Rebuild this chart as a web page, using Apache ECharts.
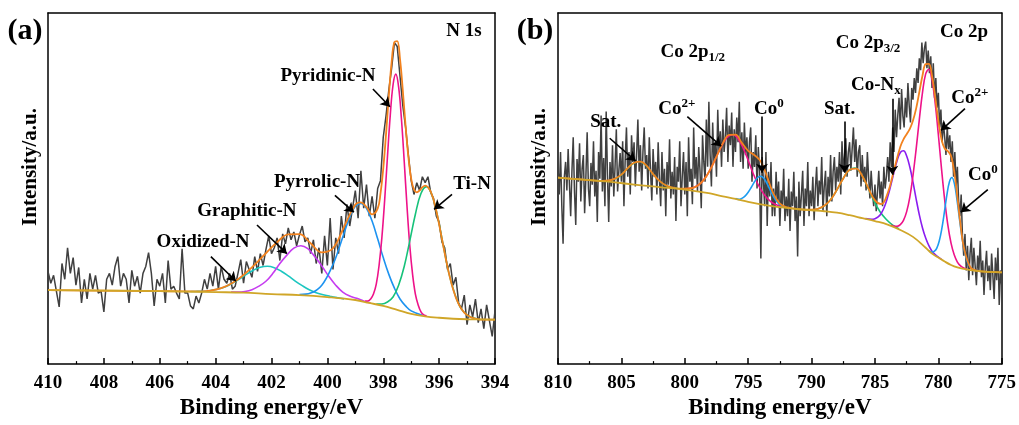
<!DOCTYPE html>
<html>
<head>
<meta charset="utf-8">
<script src="https://cdn.jsdelivr.net/npm/echarts@6/dist/echarts.min.js"></script>
<style>
  html, body { margin: 0; padding: 0; background: #fff; }
  #chart { width: 1019px; height: 425px; }
</style>
</head>
<body>
<div id="chart"></div>
<script>
// ---------- panel (a): N 1s ----------
// raw counts, 410.0 -> 394.0 eV, step 0.1
const rawA = [
  94, 82, 90, 74, 58, 102, 86, 118, 92, 108,
  80, 98, 62, 86, 66, 92, 76, 90, 72, 74,
  53, 86, 92, 80, 99, 109, 79, 92, 86, 62,
  95, 79, 89, 72, 92, 99, 113, 92, 59, 86,
  79, 92, 62, 105, 76, 79, 72, 66, 117, 72,
  72, 59, 56, 69, 62, 72, 86, 76, 92, 79,
  99, 76, 99, 86, 82, 92, 76, 79, 92, 106,
  82, 104, 96, 88, 109, 94, 112, 100, 116, 130,
  112, 118, 128, 105, 132, 122, 138, 126, 134, 120,
  131, 140, 124, 128, 112, 126, 102, 118, 92, 130,
  100, 148, 96, 128, 112, 150, 128, 162, 140, 158,
  176, 148, 196, 158, 182, 150, 170, 148, 178, 186,
  230, 252, 278, 300, 326, 322, 292, 262, 240, 212,
  186, 172, 184, 176, 190, 184, 190, 174, 168, 150,
  144, 124, 118, 96, 102, 80, 88, 62, 56, 70,
  40, 60, 48, 66, 42, 56, 36, 60, 44, 28,
  54
];
const oxidizedA = [[404.9,73.6],[404.65,73.7],[404.4,73.8],[404.15,74.8],[403.9,76.2],[403.65,78.5],[403.4,81.9],[403.15,86.2],[402.9,91],[402.65,95.2],[402.4,98.2],[402.15,99.2],[401.9,97.8],[401.65,94.2],[401.4,89.4],[401.15,84.2],[400.9,79.5],[400.65,75.4],[400.4,72.4],[400.15,70.3],[399.9,68.8],[399.65,67.4],[399.4,66.1]];
const graphiticA = [[403.45,73],[403.2,73],[402.95,73.7],[402.7,75.5],[402.45,79],[402.2,84],[401.95,92],[401.7,102],[401.45,110.5],[401.2,117.6],[400.95,120],[400.7,117],[400.45,109],[400.2,99.5],[399.95,89],[399.7,80],[399.45,73],[399.2,69],[398.95,66.7],[398.7,64],[398.45,62]];
const pyrrolicA = [[401,70.5],[400.6,72],[400.2,80],[399.8,101],[399.6,116],[399.4,133],[399.2,149],[399,160],[398.8,163],[398.6,158],[398.4,145],[398.2,127],[398,108],[397.8,91],[397.6,77],[397.4,66],[397.2,59],[397,54],[396.6,49.5]];
const pyridinicA = [[398.65,64],[398.55,64],[398.45,66],[398.35,71],[398.25,81],[398.15,100],[398.05,128],[397.95,166],[397.85,210],[397.75,252],[397.65,283],[397.55,294],[397.45,281],[397.35,249],[397.25,206],[397.15,160],[397.05,120],[396.95,91],[396.85,71],[396.75,60],[396.65,53],[396.55,50],[396.45,49]];
const tinA = [[398.25,61],[398.05,61],[397.85,63],[397.65,68],[397.45,80],[397.25,99],[397.05,125],[396.85,152],[396.65,173],[396.45,180],[396.25,171],[396.05,149],[395.85,120],[395.65,92],[395.45,72],[395.25,58],[395.05,51],[394.85,47.5],[394.65,46]];
const envelopeA = [[410,75],[406,74],[405,73.7],[404.6,73.8],[404.2,74.5],[403.8,77],[403.4,82.2],[403,90.4],[402.6,100.8],[402.2,112.4],[401.8,123.6],[401.4,131.5],[401,131.8],[400.6,122.6],[400.2,113.3],[399.8,117.5],[399.4,139.4],[399,161.7],[398.8,164],[398.6,159.2],[398.4,151.9],[398.2,157.6],[398.1,172.8],[398,198.3],[397.9,233.2],[397.8,272.1],[397.7,306.2],[397.6,326.6],[397.5,327.5],[397.4,309.2],[397.3,277.4],[397.2,241.4],[397.1,210],[397,188],[396.9,176.9],[396.8,174.2],[396.7,176],[396.6,179.3],[396.5,181],[396.3,174.8],[396.1,155.2],[395.9,127.1],[395.7,98.6],[395.5,76],[395.3,60.7],[395.1,52.1],[394.9,48],[394.7,46.1],[394.5,45.1],[394,45]];
const backgroundA = [[410,75],[406,74],[404,73],[403,72.5],[402,71],[401,70],[400,68],[399,65],[398.5,62],[398,59],[397.5,55],[397,51],[396.5,48.5],[396,47],[395.5,46],[395,45.5],[394,45]];

// ---------- panel (b): Co 2p ----------
// raw counts, 810.0 -> 775.0 eV, step 0.1
const rawB = [
  200, 172, 215, 160, 122, 190, 205, 176, 218, 183,
  150, 196, 230, 175, 141, 208, 185, 224, 165, 198,
  212, 153, 190, 235, 178, 160, 204, 182, 226, 170,
  196, 144, 215, 188, 252, 175, 209, 160, 256, 192,
  144, 205, 180, 222, 170, 200, 238, 175, 196, 214,
  185, 226, 160, 208, 240, 190, 215, 172, 232, 205,
  225, 180, 212, 248, 195, 222, 176, 215, 240, 198,
  212, 178, 230, 195, 166, 218, 190, 205, 172, 225,
  188, 160, 215, 176, 198, 150, 205, 182, 228, 168,
  195, 172, 210, 145, 200, 185, 226, 160, 190, 215,
  172, 205, 150, 230, 185, 198, 162, 240, 188, 210,
  175, 220, 196, 158, 232, 205, 185, 248, 200, 266,
  212, 180, 245, 205, 225, 190, 258, 215, 236, 200,
  248, 215, 230, 260, 205, 242, 222, 255, 200, 238,
  215, 250, 225, 266, 205, 235, 198, 245, 212, 230,
  198, 225, 240, 185, 215, 200, 232, 178, 220, 195,
  107, 210, 186, 160, 215, 140, 195, 170, 205, 150,
  178, 150, 195, 165, 185, 140, 176, 160, 198, 145,
  170, 150, 188, 135, 175, 160, 195, 145, 170, 109,
  185, 150, 172, 196, 140, 178, 160, 205, 150, 176,
  160, 190, 146, 178, 200, 160, 186, 172, 210, 155,
  180, 196, 150, 190, 170, 212, 165, 195, 210, 176,
  200, 185, 215, 172, 226, 195, 212, 229, 190, 215,
  225, 196, 218, 240, 205, 228, 190, 215, 222, 180,
  212, 185, 200, 176, 215, 190, 168, 196, 175, 160,
  182, 155, 175, 196, 168, 185, 160, 200, 178, 190,
  210, 185, 225, 200, 240, 215, 258, 230, 252, 270,
  238, 279, 252, 240, 270, 250, 285, 262, 245, 280,
  268, 290, 275, 300, 285, 310, 298, 326, 305, 320,
  327, 300, 318, 295, 312, 280, 305, 270, 290, 260,
  275, 240, 258, 225, 245, 230, 212, 240, 218, 232,
  205, 226, 190, 215, 180, 200, 165, 150, 172, 130,
  110, 132, 95, 120, 85, 112, 128, 90, 118, 100,
  80, 110, 95, 125, 88, 105, 70, 98, 115, 84,
  100, 75, 112, 90, 66, 108, 85, 118, 60, 95,
  80
];
const sat1B = [[806.6,185.7],[806.1,185.9],[805.6,187.4],[805.1,190.9],[804.6,197.2],[804.1,203.1],[803.6,205.5],[803.1,202.1],[802.6,194.2],[802.1,186.9],[801.6,181.9],[801.1,179.4],[800.6,178.2]];
const co2p1B = [[800.2,177.7],[799.7,177.9],[799.2,179.5],[798.7,184],[798.2,192.5],[797.7,204.8],[797.2,218.4],[796.7,229.4],[796.2,232.5],[795.7,226.4],[795.2,213.1],[794.7,196.3],[794.2,181.6],[793.7,171.1],[793.2,164.5],[792.7,161.1],[792.2,159.3]];
const co0p1B = [[796,167.9],[795.75,167],[795.5,168],[795.25,170.3],[795,174.2],[794.75,179.3],[794.5,184.9],[794.25,189.2],[794,190.5],[793.75,188.1],[793.5,182.7],[793.25,176],[793,169.7],[792.75,165],[792.5,161.8],[792.25,159.9],[792,158.9]];
const sat2B = [[790.1,156.5],[789.6,157.1],[789.1,159.6],[788.6,165.2],[788.1,174.5],[787.6,186],[787.1,195.9],[786.6,198.8],[786.1,192.9],[785.6,180.3],[785.1,166.1],[784.6,154.5],[784.1,146.6],[783.6,140.9],[783.1,137.1]];
const conxB = [[785.75,147.5],[785.25,146.9],[785,147.5],[784.75,149.2],[784.5,153],[784.25,159.5],[784,169.3],[783.75,181.3],[783.5,194.5],[783.25,206.4],[783,214.5],[782.75,216.3],[782.5,211],[782.25,199.8],[782,184.5],[781.75,167.3],[781.5,151.3],[781.25,138],[781,127.8],[780.75,120.1],[780.5,114.5],[780.25,111.1],[780,108.4],[779.75,106.2]];
const co2p3B = [[783.75,140.7],[783.5,140],[783.25,139.8],[783,141.5],[782.75,145.8],[782.5,154.6],[782.25,169.4],[782,191.4],[781.75,218.3],[781.5,248.1],[781.25,275.5],[781,294.3],[780.75,299],[780.5,288.3],[780.25,264.7],[780,232.6],[779.75,198],[779.5,166.4],[779.25,140.8],[779,122.6],[778.75,110.8],[778.5,103.5],[778.25,99.6],[778,97.5],[777.75,96.4]];
const co0p3B = [[780.73,115.2],[780.53,113.7],[780.33,114.3],[780.13,117.4],[779.93,124.8],[779.73,137.1],[779.53,153.5],[779.33,171.3],[779.13,184.7],[778.93,189.2],[778.73,182.7],[778.53,166.6],[778.33,146.8],[778.13,128.1],[777.93,113.7],[777.73,104.4],[777.53,99.1],[777.33,96.5],[777.13,95.2]];
const envelopeB = [[810,189],[809,188],[808,187],[807,186],[806.5,185.8],[806,186.2],[805.5,188.1],[805,192.1],[804.5,198.7],[804,204.1],[803.5,205.3],[803,200.9],[802.5,192.7],[802,185.8],[801.5,181.4],[801,179.2],[800.5,177.9],[800,177.8],[799.5,178.3],[799,180.9],[798.5,186.8],[798,197.1],[797.5,210.4],[797,223.8],[796.5,232.5],[796,232.6],[795.5,224.3],[795,216.2],[794.5,211.8],[794,205.3],[793.5,189.6],[793,172.5],[792.5,162.8],[792,159.2],[791.5,157.8],[791,157],[790.5,156.5],[790,156.6],[789.5,157.5],[789,160.5],[788.5,166.6],[788,176.8],[787.5,188.2],[787,197.1],[786.5,198.3],[786,190.8],[785.5,177.8],[785,166],[784.5,162.2],[784,173.2],[783.5,196.8],[783,220.3],[782.75,227.8],[782.5,233.1],[782.25,238.4],[782,246.9],[781.75,259.3],[781.5,275.9],[781.25,292.7],[781,304.2],[780.75,304.5],[780.5,292.4],[780.25,270.9],[780,246.6],[779.75,227.7],[779.5,218.6],[779.25,216],[779,210.9],[778.75,195.2],[778.5,169.2],[778.25,141.3],[778,119],[777.5,98.7],[777,94.7],[776,93.5],[775,93]];
const backgroundB = [[810,189],[808,187],[806,185],[804,182],[802,179.5],[800,177],[798,173],[797,170],[796,167.5],[795,164.5],[794,162],[793,160],[792,158.5],[791,157],[790,156],[789,155],[788,153.5],[787,151],[786,148],[785,145],[784,141.5],[783,136],[782,129],[781,118],[780.5,112],[780,108],[779.5,104],[779,100.5],[778.5,98],[778,96.5],[777,94.5],[776,93.5],[775,93]];

// ---------- annotations ----------
const labelsA = [
  ['{t|N 1s}', 395.11, 338],
  ['{t|Pyridinic-N}', 399.98, 292],
  ['{t|Pyrrolic-N}', 400.37, 185],
  ['{t|Ti-N}', 394.82, 183],
  ['{t|Graphitic-N}', 402.88, 155],
  ['{t|Oxidized-N}', 404.45, 124]
];
const arrowsA = [
  [[398.37, 279], [397.76, 261]],
  [[399.73, 171], [399.05, 154]],
  [[395.54, 172], [396.18, 157]],
  [[402.52, 141], [401.45, 112]],
  [[404.17, 109], [403.27, 84]]
];
const labelsB = [
  ['{t|Co 2p}', 777.98, 337],
  ['{t|Co 2p}{sub|3/2}', 785.55, 325],
  ['{t|Co 2p}{sub|1/2}', 799.37, 316],
  ['{t|Sat.}', 806.23, 245],
  ['{t|Co}{sup|2+}', 800.62, 259],
  ['{t|Co}{sup|0}', 793.36, 259],
  ['{t|Sat.}', 787.79, 259],
  ['{t|Co-N}{sub|x}', 784.93, 283],
  ['{t|Co}{sup|2+}', 777.51, 270],
  ['{t|Co}{sup|0}', 776.49, 192]
];
const arrowsB = [
  [[805.92, 229], [803.88, 206]],
  [[799.8, 251], [797.13, 221]],
  [[793.91, 251], [793.91, 194]],
  [[787.4, 246], [787.4, 194]],
  [[783.63, 269], [783.63, 192]],
  [[777.9, 259], [779.79, 237]],
  [[776.1, 177], [778.22, 154]]
];

const FONT = "'Liberation Serif', 'Times New Roman', serif";

function energyGrid(start, n) {
  let xs = [];
  for (let i = 0; i < n; i++) xs.push(+(start - i * 0.1).toFixed(1));
  return xs;
}
const beA = energyGrid(410, rawA.length);
const beB = energyGrid(810, rawB.length);

function curve(data, color, xi, width) {
  return {
    type: 'line', xAxisIndex: xi, yAxisIndex: xi, data: data,
    symbol: 'none', smooth: 0.4, silent: true,
    lineStyle: { color: color, width: width || 1.6 }
  };
}

const richStyle = {
  t: { fontFamily: FONT, fontWeight: 'bold', fontSize: 19, color: '#000', lineHeight: 24 },
  sup: { fontFamily: FONT, fontWeight: 'bold', fontSize: 13, color: '#000', lineHeight: 14, verticalAlign: 'top' },
  sub: { fontFamily: FONT, fontWeight: 'bold', fontSize: 13, color: '#000', lineHeight: 14, verticalAlign: 'bottom' }
};

function labelSeries(list, xi) {
  return {
    type: 'scatter', xAxisIndex: xi, yAxisIndex: xi, silent: true,
    symbolSize: 1, itemStyle: { color: 'rgba(0,0,0,0)' },
    data: list.map(l => ({ value: [l[1], l[2]], txt: l[0] })),
    label: {
      show: true, position: 'inside', color: '#000', opacity: 1,
      formatter: p => p.data.txt, rich: richStyle
    },
    z: 10
  };
}

function arrowSeries(list, xi) {
  return {
    type: 'lines', coordinateSystem: 'cartesian2d', xAxisIndex: xi, yAxisIndex: xi,
    silent: true, symbol: ['none', 'arrow'], symbolSize: 9,
    lineStyle: { color: '#000', width: 1.6, opacity: 1 },
    data: list.map(a => ({ coords: a })),
    z: 10
  };
}

function bottomAxis(gi, min, max, interval) {
  return {
    gridIndex: gi, type: 'value', min: min, max: max, interval: interval, inverse: true,
    position: 'bottom',
    name: 'Binding energy/eV', nameLocation: 'middle', nameGap: 29,
    nameTextStyle: { fontFamily: FONT, fontWeight: 'bold', fontSize: 23, color: '#000' },
    axisLine: { show: true, onZero: false, lineStyle: { color: '#000', width: 1.5 } },
    axisTick: { show: true, inside: true, length: 6, lineStyle: { color: '#000', width: 1.5 } },
    minorTick: { show: true, splitNumber: 2, length: 3, lineStyle: { color: '#000', width: 1.2 } },
    axisLabel: { fontFamily: FONT, fontWeight: 'bold', fontSize: 19, color: '#000', margin: 9 },
    splitLine: { show: false }
  };
}
function topAxis(gi, min, max) {
  return {
    gridIndex: gi, type: 'value', min: min, max: max, inverse: true, position: 'top',
    axisLine: { show: true, onZero: false, lineStyle: { color: '#000', width: 1.5 } },
    axisTick: { show: false }, axisLabel: { show: false }, splitLine: { show: false }
  };
}
function sideAxis(gi, pos) {
  return {
    gridIndex: gi, type: 'value', min: 0, max: 356, position: pos,
    axisLine: { show: true, onZero: false, lineStyle: { color: '#000', width: 1.5 } },
    axisTick: { show: false }, axisLabel: { show: false }, splitLine: { show: false }
  };
}

const chart = echarts.init(document.getElementById('chart'));
chart.setOption({
  animation: false,
  backgroundColor: '#fff',
  grid: [
    { left: 48, top: 13, width: 447, height: 356 },
    { left: 558, top: 13, width: 446, height: 356 }
  ],
  xAxis: [
    bottomAxis(0, 394, 410, 2), bottomAxis(1, 775, 810, 5),
    topAxis(0, 394, 410), topAxis(1, 775, 810)
  ],
  yAxis: [
    sideAxis(0, 'left'), sideAxis(1, 'left'),
    sideAxis(0, 'right'), sideAxis(1, 'right')
  ],
  graphic: [
    { type: 'text', x: 25, y: 31, style: { text: '(a)', font: 'bold 30px ' + FONT, fill: '#000', textAlign: 'center', textVerticalAlign: 'middle' } },
    { type: 'text', x: 535, y: 31, style: { text: '(b)', font: 'bold 30px ' + FONT, fill: '#000', textAlign: 'center', textVerticalAlign: 'middle' } },
    { type: 'text', x: 31, y: 167, rotation: Math.PI / 2, style: { text: 'Intensity/a.u.', font: 'bold 21px ' + FONT, fill: '#000', textAlign: 'center', textVerticalAlign: 'middle' } },
    { type: 'text', x: 540, y: 167, rotation: Math.PI / 2, style: { text: 'Intensity/a.u.', font: 'bold 21px ' + FONT, fill: '#000', textAlign: 'center', textVerticalAlign: 'middle' } }
  ],
  series: [
    {
      type: 'line', xAxisIndex: 0, yAxisIndex: 0, symbol: 'none', silent: true,
      data: beA.map((x, i) => [x, rawA[i]]),
      lineStyle: { color: '#404040', width: 1.5 }
    },
    curve(oxidizedA, '#1cc6c0', 0),
    curve(graphiticA, '#c63cf0', 0),
    curve(pyrrolicA, '#1d93f0', 0),
    curve(pyridinicA, '#ee1289', 0),
    curve(tinA, '#16c27a', 0),
    curve(envelopeA, '#f2821e', 0, 1.8),
    curve(backgroundA, '#d0a628', 0, 1.8),
    labelSeries(labelsA, 0),
    arrowSeries(arrowsA, 0),

    {
      type: 'line', xAxisIndex: 1, yAxisIndex: 1, symbol: 'none', silent: true,
      data: beB.map((x, i) => [x, rawB[i]]),
      lineStyle: { color: '#404040', width: 1.5 }
    },
    curve(sat1B, '#16c27a', 1),
    curve(co2p1B, '#ee1289', 1),
    curve(co0p1B, '#1d9cf0', 1),
    curve(sat2B, '#16c27a', 1),
    curve(conxB, '#8a1cf0', 1),
    curve(co2p3B, '#ee1289', 1),
    curve(co0p3B, '#1d9cf0', 1),
    curve(envelopeB, '#f2821e', 1, 1.8),
    curve(backgroundB, '#d0a628', 1, 1.8),
    labelSeries(labelsB, 1),
    arrowSeries(arrowsB, 1)
  ]
});
</script>
</body>
</html>
